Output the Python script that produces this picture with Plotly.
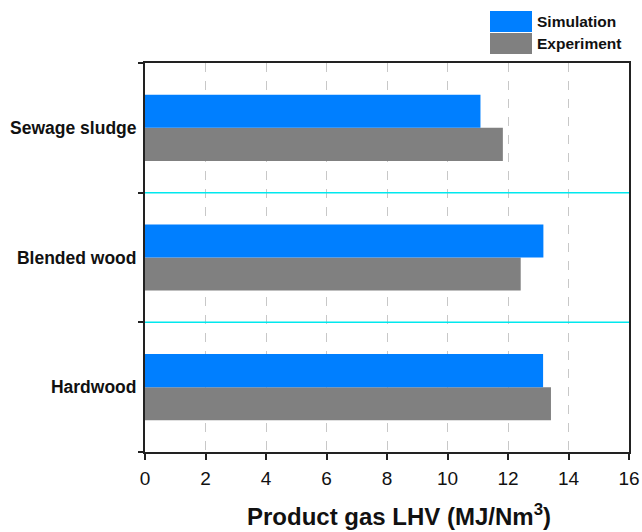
import plotly.graph_objects as go

# Feedstocks (bottom to top) and product gas LHV values in MJ/Nm3
feedstocks = ["Hardwood", "Blended wood", "Sewage sludge"]
simulation = [13.16, 13.17, 11.09]
experiment = [13.42, 12.42, 11.83]
x_ticks = [0, 2, 4, 6, 8, 10, 12, 14, 16]

BLUE = "#007FFF"
GREY = "#808080"
FONT = "Liberation Sans, Arial, sans-serif"

# Plot-area geometry in pixels (used to place legend and title)
L, R, T, B = 145, 629, 63, 452
W, H = R - L, B - T


def px(x):
    return (x - L) / W


def py(y):
    return (B - y) / H


fig = go.Figure()
# Experiment first so it sits in the lower half of each group
fig.add_trace(go.Bar(y=feedstocks, x=experiment, orientation="h", name="Experiment",
                     marker=dict(color=GREY, line=dict(width=0)), showlegend=False))
fig.add_trace(go.Bar(y=feedstocks, x=simulation, orientation="h", name="Simulation",
                     marker=dict(color=BLUE, line=dict(width=0)), showlegend=False))

# Cyan separators between feedstock groups
for b in [0.5, 1.5]:
    fig.add_shape(type="line", xref="paper", yref="y", x0=0, x1=1, y0=b, y1=b,
                  line=dict(color="#00E8EE", width=1.5), layer="above")

# Legend swatches and labels
legend_items = [("Simulation", BLUE), ("Experiment", GREY)]
for i, (name, col) in enumerate(legend_items):
    y_top = 11 + i * 22
    fig.add_shape(type="rect", xref="paper", yref="paper",
                  x0=px(490), x1=px(532), y0=py(y_top), y1=py(y_top + 21),
                  fillcolor=col, line=dict(width=0))
    fig.add_annotation(xref="paper", yref="paper", x=px(535), y=py(y_top + 10.5),
                       text="<b>%s</b>" % name, showarrow=False,
                       xanchor="left", yanchor="middle",
                       font=dict(family=FONT, size=15.5, color="#111"))

# X-axis title
fig.add_annotation(xref="paper", yref="paper", x=px(399), y=py(515),
                   text="<b>Product gas LHV (MJ/Nm<sup>3</sup>)</b>", showarrow=False,
                   xanchor="center", yanchor="middle",
                   font=dict(family=FONT, size=24, color="#111"))

fig.update_layout(
    width=642, height=532,
    margin=dict(l=L, r=642 - R, t=T, b=532 - B),
    paper_bgcolor="white", plot_bgcolor="white",
    barmode="group", bargap=0.49, bargroupgap=0,
    font=dict(family=FONT, color="#111"),
    xaxis=dict(
        range=[0, 16], tickvals=x_ticks, ticktext=[str(v) for v in x_ticks],
        automargin=False,
        showline=True, linecolor="#222", linewidth=2, mirror=True,
        ticks="outside", ticklen=6, tickcolor="#222", tickwidth=1.5,
        tickfont=dict(size=19, family=FONT, color="#111"),
        ticklabelstandoff=2,
        showgrid=True, gridcolor="#c8c8c8", griddash="dash", gridwidth=1,
        zeroline=False,
    ),
    yaxis=dict(
        type="category", categoryorder="array", categoryarray=feedstocks,
        range=[-0.5, 2.5], automargin=False,
        showline=True, linecolor="#222", linewidth=2, mirror=True,
        ticks="outside", tickson="boundaries", ticklen=5, tickcolor="#222", tickwidth=1.5,
        tickfont=dict(size=17.5, family=FONT, color="#111"),
        ticklabelstandoff=3,
        showgrid=False, zeroline=False,
    ),
)
fig.update_yaxes(ticktext=["<b>%s</b>" % f for f in feedstocks], tickvals=feedstocks)

fig.write_html("out.html")
